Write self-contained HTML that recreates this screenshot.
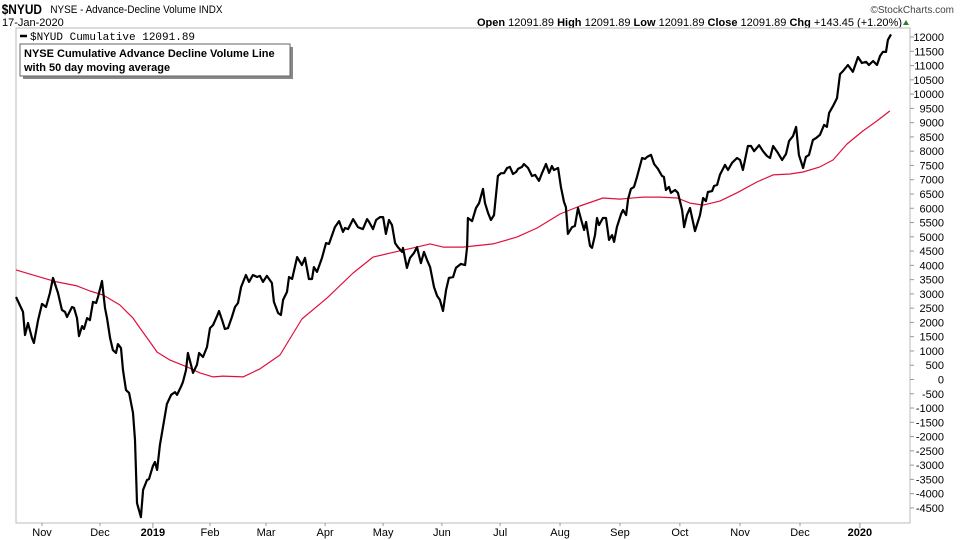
<!DOCTYPE html>
<html><head><meta charset="utf-8">
<style>
body{margin:0;background:#fff;font-family:"Liberation Sans",sans-serif;}
#wrap{position:relative;width:960px;height:540px;overflow:hidden;}
</style></head>
<body>
<div id="wrap">
<svg id="chart" width="960" height="540" xmlns="http://www.w3.org/2000/svg">
  <text x="2" y="14" font-size="14" font-weight="bold" fill="#000" transform="scale(0.85,1)">$NYUD</text>
  <text x="56" y="13" font-size="11" fill="#000" transform="scale(0.9,1)">NYSE - Advance-Decline Volume INDX</text>
  <text x="954" y="13" font-size="10" fill="#444" text-anchor="end">©StockCharts.com</text>
  <text x="2" y="26" font-size="11" fill="#000">17-Jan-2020</text>
  <text x="902" y="26" font-size="11" fill="#000" text-anchor="end"><tspan font-weight="bold">Open</tspan> 12091.89 <tspan font-weight="bold">High</tspan> 12091.89 <tspan font-weight="bold">Low</tspan> 12091.89 <tspan font-weight="bold">Close</tspan> 12091.89 <tspan font-weight="bold">Chg</tspan> +143.45 (+1.20%)</text>
  <polygon points="903,25 909,25 906,20" fill="#2e7d32"/>
  <rect x="16" y="28" width="894" height="495" fill="none" stroke="#bbb" stroke-width="1"/>
  <g id="grid"></g>
  <g id="series"></g>
  <line x1="20" y1="36" x2="27" y2="36" stroke="#000" stroke-width="2.5"/>
  <text x="30" y="40" font-size="11" font-family="Liberation Mono, monospace" fill="#000">$NYUD Cumulative 12091.89</text>
  <rect x="23" y="47" width="270" height="32" fill="#888"/>
  <rect x="20" y="44" width="270" height="32" fill="#fff" stroke="#666"/>
  <text x="24" y="57" font-size="11" font-weight="bold" fill="#000">NYSE Cumulative Advance Decline Volume Line</text>
  <text x="24" y="71" font-size="11" font-weight="bold" fill="#000">with 50 day moving average</text>
</svg>
</div>
<script>
const adDays=[0,2.5,3.2,4.3,5.7,6.4,7.9,9.3,10.7,12.1,13.2,15,16.4,17.5,18.2,20,20.7,21.8,22.5,23.6,24.3,25.4,26.4,27.5,28.6,29.3,30.7,31.8,32.5,33.6,34.6,35.7,36.4,37.5,38.2,39.3,40.4,41.8,42.5,43.2,44.6,45.4,46.8,47.5,48.9,49.6,50.4,51.4,52.5,53.9,55.4,56.8,57.5,58.9,59.6,60.7,61.4,62.5,63.2,64.6,65.4,66.8,68.2,69.3,70.4,71.8,72.5,73.6,74.6,75.7,77.1,78.2,79.3,80.4,82.1,83.2,84.6,86.1,87.1,88.2,89.6,91.4,92.1,93.6,94.6,95.4,96.8,97.5,98.6,100.4,102.1,103.2,104.6,105.7,106.4,107.5,109.3,110.7,111.8,113.9,115.4,116.8,117.5,118.6,120.4,122.1,123.9,125.4,126.1,127.5,128.6,130,131.1,132.1,133.2,134.3,135.4,136.4,137.9,138.2,139.6,140.7,142.1,143.2,144.6,145.7,146.8,147.9,149.3,150.4,151.4,152.5,153.6,154.6,156.1,157.1,158.9,160.4,161.1,161.4,162.9,164.3,165.4,166.8,167.5,168.6,169.6,170.7,172.1,173.2,174.3,175.4,176.4,177.5,178.6,179.3,180.7,181.4,182.9,184.3,185.4,186.8,187.9,189.3,190.4,191.4,192.1,193.6,194.6,195.7,196.4,197.1,198.6,199.6,200.7,201.8,202.9,203.6,205,205.7,206.8,207.5,208.2,209.6,210.7,211.8,212.9,213.6,214.6,216.1,216.8,217.9,218.6,219.6,220.7,221.8,223.6,224.6,225.4,226.8,227.9,229.3,230.7,231.4,232.1,233.2,233.9,235.4,236.4,237.9,238.6,239.6,240.7,242.5,244.3,245.4,246.4,247.1,248.6,249.3,250.4,251.4,253.2,254.3,255.7,257.5,258.6,259.6,261.4,262.5,263.6,265.4,266.8,268.2,269.3,270.4,272.1,273.6,275,276.1,277.5,278.6,279.6,281.1,282.1,283.2,284.6,285.7,287.1,288.6,289.6,290.4,291.8,293.2,294.3,295.4,297.1,298.9,300.7,302.1,303.6,304.6,306.1,307.5,308.6,309.6,310.7,311.4,312.5];
const adValues=[2890,2370,1560,1980,1450,1280,2080,2650,2540,3030,3560,3030,2440,2370,2190,2540,2510,2150,1520,1870,1770,2150,2080,2720,2680,2890,3450,2510,2150,1450,1030,930,1240,1100,330,-370,-470,-1170,-2120,-4330,-4820,-3870,-3520,-3490,-3030,-2890,-3170,-2300,-1660,-860,-540,-440,-540,-260,-90,330,930,510,230,510,930,790,1140,1800,1910,2220,2400,2080,1770,1800,2190,2540,2680,3240,3660,3420,3660,3590,3630,3420,3630,3380,2720,2330,2260,2790,3070,3590,3520,4290,4010,4260,3520,3520,3940,3770,4260,4780,4750,5340,5550,5170,5310,5270,5620,5340,5270,5620,5520,5270,5590,5690,5690,5100,5590,5410,4780,4640,4470,4610,3910,4260,4430,4640,4080,4470,4190,3940,3240,2930,2790,2400,3140,3560,3590,3910,4050,4010,4640,5660,5550,6010,6180,6680,6180,5830,5590,5760,7130,7230,7230,7410,7450,7200,7270,7380,7450,7550,7410,7130,7170,6960,7240,7550,7240,7480,7340,7410,6750,6220,6040,5100,5340,5380,6010,5620,5240,5520,4680,4610,5060,5660,5410,5660,5660,4890,5060,4820,5340,5800,5940,5760,6320,6680,6750,7100,7760,7730,7800,7870,7550,7380,7130,7100,6640,6750,6540,6640,6540,5940,5340,5760,6010,5200,5760,6360,6250,6570,6600,6780,6820,7170,7520,7340,7590,7760,7690,7340,8180,8180,8000,8210,8000,7830,7760,8180,7940,7690,7900,8360,8530,8850,7870,7410,7800,7870,8390,8460,8570,8920,8850,9340,9580,9860,10700,10810,11020,10780,11300,11090,11130,11020,11160,11020,11340,11480,11480,11900,12092];
const maDays=[0,9.6,14.6,21.8,26.4,31.1,37.1,41.8,44.3,47.9,50.4,55,61.1,65.7,70.4,73.9,81.1,87.1,94.3,102.1,111.1,120.4,127.5,133.6,141.8,147.9,152.5,159.6,170.4,178.9,186.1,194.3,201.4,209.6,215.7,223.9,230,236.1,240.7,245.4,251.4,257.5,264.6,270.4,276.4,281.1,287.1,291.8,296.8,302.5,307.5,312.1];
const maValues=[3840,3560,3420,3280,3100,2960,2610,2150,1800,1310,960,680,440,230,90,120,90,370,860,2120,2860,3730,4290,4430,4610,4750,4640,4640,4750,4990,5310,5800,6080,6360,6320,6390,6390,6360,6180,6110,6250,6540,6920,7170,7200,7270,7450,7690,8250,8710,9060,9410];
const yTicks=[12000,11500,11000,10500,10000,9500,9000,8500,8000,7500,7000,6500,6000,5500,5000,4500,4000,3500,3000,2500,2000,1500,1000,500,0,-500,-1000,-1500,-2000,-2500,-3000,-3500,-4000,-4500];
const monthLabels=["Nov","Dec","2019","Feb","Mar","Apr","May","Jun","Jul","Aug","Sep","Oct","Nov","Dec","2020"];
const monthDays=[9.3,30,48.9,69.3,89.3,110.4,131.1,152.1,172.9,194.3,215.7,237.1,258.6,280,301.4];
const yearLabels=["2019","2020"];

const NS="http://www.w3.org/2000/svg";
const X0=16, XPERDAY=2.8, Y0=379.5, YPER=14.27/500;
function xs(d){return X0+d*XPERDAY;}
function ys(v){return Y0-v*YPER;}
const grid=document.getElementById('grid');
yTicks.forEach(function(t){
  const y=ys(t);
  const tk=document.createElementNS(NS,'line');
  tk.setAttribute('x1',910);tk.setAttribute('x2',914);tk.setAttribute('y1',y);tk.setAttribute('y2',y);
  tk.setAttribute('stroke','#999');
  
  
  grid.appendChild(tk);
  const tx=document.createElementNS(NS,'text');
  tx.setAttribute('x',944);tx.setAttribute('y',y+4);tx.setAttribute('font-size','11');tx.setAttribute('text-anchor','end');
  tx.textContent=String(t);
  
  
  grid.appendChild(tx);
});
monthLabels.forEach(function(m,i){
  const x=xs(monthDays[i]);
  const isYear=yearLabels.indexOf(m)>=0;
  const tk=document.createElementNS(NS,'line');
  tk.setAttribute('x1',x);tk.setAttribute('x2',x);tk.setAttribute('y1',523);tk.setAttribute('y2',isYear?528:526);
  tk.setAttribute('stroke','#999');
  
  
  grid.appendChild(tk);
  const tx=document.createElementNS(NS,'text');
  tx.setAttribute('x',x);tx.setAttribute('y',536);tx.setAttribute('font-size','11');tx.setAttribute('text-anchor','middle');
  if(isYear)tx.setAttribute('font-weight','bold');
  tx.textContent=m;
  
  
  grid.appendChild(tx);
});
const series=document.getElementById('series');
function path(days,vals,color,w,name){
  let d='';
  for(let i=0;i<days.length;i++){d+=(i?'L':'M')+xs(days[i]).toFixed(1)+','+ys(vals[i]).toFixed(1);}
  const p=document.createElementNS(NS,'path');
  p.setAttribute('d',d);p.setAttribute('fill','none');p.setAttribute('stroke',color);p.setAttribute('stroke-width',w);
  p.setAttribute('stroke-linejoin','round');
  
  
  series.appendChild(p);
}
path(maDays,maValues,'#e0103c',1.2,'moving-average-line');
path(adDays,adValues,'#000',2.2,'ad-volume-line');
</script>
</body></html>
